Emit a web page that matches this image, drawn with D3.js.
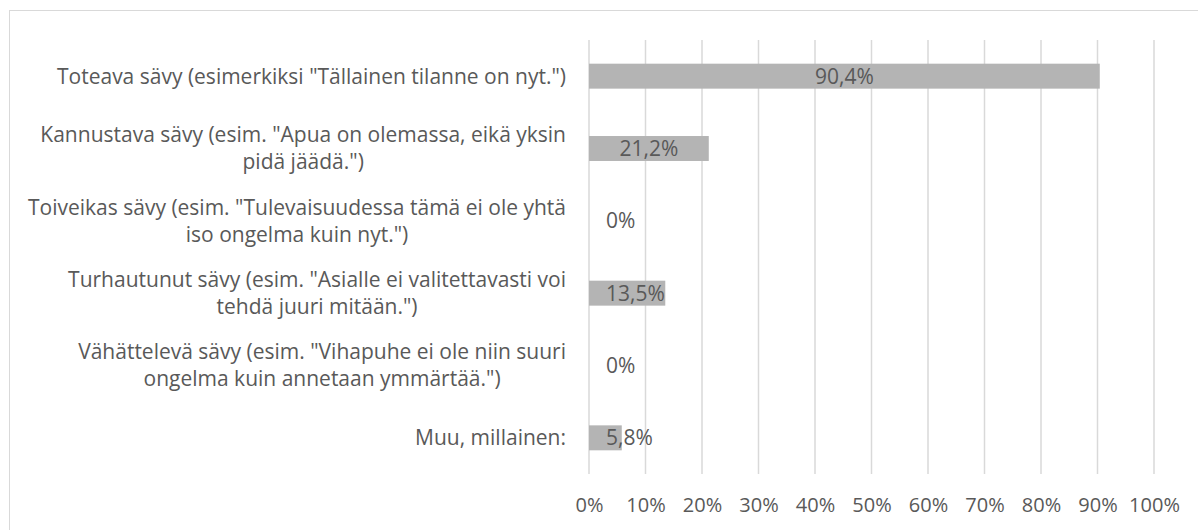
<!DOCTYPE html>
<html>
<head>
<meta charset="utf-8">
<script src="https://cdn.jsdelivr.net/npm/d3@7"></script>
<style>
  html, body { margin: 0; padding: 0; background: #fff; }
  svg { display: block; }
  text { font-family: "Open Sans", sans-serif; fill: #595959; }
</style>
</head>
<body>
<div id="chart"></div>
<script>
// Category labels, already split into the lines shown in the chart
const categories = [
  ["Toteava sävy (esimerkiksi \"Tällainen tilanne on nyt.\")"],
  ["Kannustava sävy (esim. \"Apua on olemassa, eikä yksin", "pidä jäädä.\")"],
  ["Toiveikas sävy (esim. \"Tulevaisuudessa tämä ei ole yhtä", "iso ongelma kuin nyt.\")"],
  ["Turhautunut sävy (esim. \"Asialle ei valitettavasti voi", "tehdä juuri mitään.\")"],
  ["Vähättelevä sävy (esim. \"Vihapuhe ei ole niin suuri", "ongelma kuin annetaan ymmärtää.\")"],
  ["Muu, millainen:"]
];
const values = [90.4, 21.2, 0, 13.5, 0, 5.8];
const ticks = [0, 10, 20, 30, 40, 50, 60, 70, 80, 90, 100];

const width = 1198, height = 530;
const margin = { top: 40, right: 44, bottom: 56, left: 589 };

const svg = d3.select("#chart").append("svg")
    .attr("width", width)
    .attr("height", height);

// chart frame (only top and left edges fall inside the picture)
svg.append("rect")
    .attr("x", 9.5).attr("y", 10.5)
    .attr("width", width).attr("height", height)
    .attr("fill", "none")
    .attr("stroke", "#d9d9d9");

const x = d3.scaleLinear()
    .domain([0, 100])
    .range([margin.left, width - margin.right]);

const y = d3.scaleBand()
    .domain(d3.range(categories.length))
    .range([margin.top, height - margin.bottom])
    .paddingInner(0.655)
    .paddingOuter(0.3275);

// vertical gridlines
svg.append("g")
    .selectAll("line")
    .data(ticks)
    .join("line")
    .attr("x1", d => x(d)).attr("x2", d => x(d))
    .attr("y1", margin.top).attr("y2", height - margin.bottom)
    .attr("stroke", "#d9d9d9")
    .attr("stroke-width", 1.5);

// x axis tick labels
svg.append("g")
    .attr("transform", `translate(0,${height - margin.bottom})`)
    .call(d3.axisBottom(x).tickValues(ticks).tickSize(0).tickPadding(24).tickFormat(d => d + "%"))
    .call(g => g.select(".domain").remove())
    .selectAll("text")
    .attr("font-size", 20)
    .attr("font-family", "Open Sans, sans-serif")
    .attr("fill", "#595959");

// bars
svg.append("g")
    .selectAll("rect")
    .data(values)
    .join("rect")
    .attr("x", x(0))
    .attr("y", (d, i) => y(i))
    .attr("width", d => x(d) - x(0))
    .attr("height", y.bandwidth())
    .attr("fill", "#b4b4b4");

// data labels, centred in bar but kept clear of the axis
const labels = svg.append("g")
    .selectAll("text")
    .data(values)
    .join("text")
    .attr("y", (d, i) => y(i) + y.bandwidth() / 2)
    .attr("dy", "0.35em")
    .attr("font-size", 21)
    .attr("text-anchor", "middle")
    .text(d => String(d).replace(".", ",") + "%");

labels.attr("x", function(d) {
  const w = this.getComputedTextLength();
  return Math.max((x(0) + x(d)) / 2, x(0) + 17 + w / 2);
});

// category labels: lines centred on each other, block right-aligned
const lineH = 27;
const cat = svg.append("g")
    .selectAll("g")
    .data(categories)
    .join("g");

cat.each(function(lines, i) {
  const g = d3.select(this);
  const cy = y(i) + y.bandwidth() / 2;
  const t = g.selectAll("text")
      .data(lines)
      .join("text")
      .attr("font-size", 21)
      .attr("y", (d, j) => cy + (j - (lines.length - 1) / 2) * lineH)
      .attr("dy", "0.35em")
      .attr("text-anchor", "middle")
      .text(d => d);
  const widths = t.nodes().map(n => n.getComputedTextLength());
  const maxW = d3.max(widths);
  const right = x(0) - 23;
  t.attr("x", right - maxW / 2);
});
</script>
</body>
</html>
